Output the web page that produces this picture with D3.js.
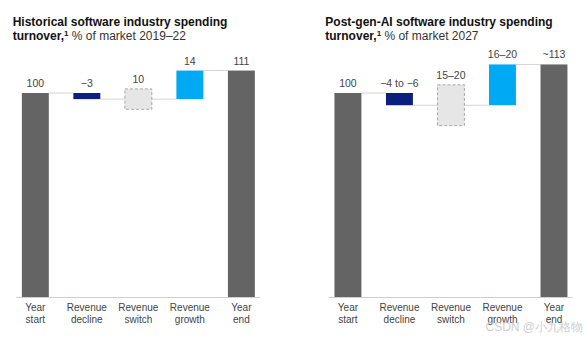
<!DOCTYPE html>
<html>
<head>
<meta charset="utf-8">
<script src="https://cdn.jsdelivr.net/npm/d3@7"></script>
<style>
  body { margin: 0; background: #fff; }
  svg { font-family: "Liberation Sans", Arial, sans-serif; }
</style>
</head>
<body>
<script>
var w = 586;
var h = 337;

// categories shared by both panels
var categories = [['Year', 'start'], ['Revenue', 'decline'], ['Revenue', 'switch'], ['Revenue', 'growth'], ['Year', 'end']];
var kinds = ['total', 'decline', 'switch', 'growth', 'total'];

// historical 2019-22
var histValues = [100, -3, 10, 14, 111];
var histLabels = ['100', '\u22123', '10', '14', '111'];

// post-gen-AI 2027 (drawn at the outer end of each range)
var aiValues = [100, -6, 20, 20, 114];
var aiLabels = ['100', '\u22124 to \u22126', '15\u201320', '16\u201320', '~113'];

var colors = { total: '#646464', decline: '#0b1f7c', growth: '#00a9f4', switch: '#e6e6e6' };

var svg = d3.select('body')
   .append('svg')
   .attr('width', w)
   .attr('height', h);

// turn the values into floating bar segments
function waterfall(values) {
   var level = 0;
   return values.map(function(v, i) {
      var k = kinds[i], lo, hi;
      if (k === 'total') { lo = 0; hi = v; level = v; }
      else if (k === 'switch') { lo = level - v / 2; hi = level + v / 2; }
      else { lo = Math.min(level, level + v); hi = Math.max(level, level + v); level += v; }
      return { i: i, kind: k, lo: lo, hi: hi, level: level };
   });
}

function panel(x0, titleLines, values, labels) {
   var g = svg.append('g');
   var x = d3.scaleBand()
      .domain(d3.range(categories.length))
      .range([x0, x0 + 243.3])
      .paddingInner(0.477)
      .paddingOuter(0.1);
   var y = d3.scaleLinear().domain([0, 100]).range([297, 93]);
   var segs = waterfall(values);

   // title
   var t = g.append('text').attr('x', x0 - 4).attr('y', 26).attr('font-size', '12px').attr('fill', '#111');
   t.append('tspan').attr('font-weight', 'bold').text(titleLines[0]);
   var t2 = g.append('text').attr('x', x0 - 4).attr('y', 40).attr('font-size', '12px').attr('fill', '#111');
   t2.append('tspan').attr('font-weight', 'bold').text('turnover,');
   t2.append('tspan').attr('font-size', '8px').attr('dy', -4).attr('font-weight', 'bold').text('1');
   t2.append('tspan').attr('dy', 4).attr('fill', '#333').text(' ' + titleLines[1]);

   // connectors
   g.selectAll('line.conn')
      .data(segs.slice(0, -1))
      .enter()
      .append('line')
      .attr('x1', function(d) { return x(d.i) + x.bandwidth(); })
      .attr('x2', function(d) { return x(d.i + 1); })
      .attr('y1', function(d) { return y(d.level); })
      .attr('y2', function(d) { return y(d.level); })
      .attr('stroke', '#d4d4d4')
      .attr('stroke-width', 1);

   // bars
   g.selectAll('rect')
      .data(segs)
      .enter()
      .append('rect')
      .attr('x', function(d) { return x(d.i); })
      .attr('y', function(d) { return y(d.hi); })
      .attr('width', x.bandwidth())
      .attr('height', function(d) { return y(d.lo) - y(d.hi); })
      .attr('fill', function(d) { return colors[d.kind]; })
      .attr('stroke', function(d) { return d.kind === 'switch' ? '#a8a8a8' : 'none'; })
      .attr('stroke-dasharray', '3,2');

   // value labels
   g.selectAll('text.val')
      .data(segs)
      .enter()
      .append('text')
      .attr('class', 'val')
      .attr('x', function(d) { return x(d.i) + x.bandwidth() / 2; })
      .attr('y', function(d) { return y(d.hi) - 6; })
      .attr('text-anchor', 'middle')
      .attr('font-size', '10.5px')
      .attr('fill', '#444')
      .text(function(d) { return labels[d.i]; });

   // baseline axis
   var axis = g.append('g').attr('transform', 'translate(0,297)')
      .call(d3.axisBottom(x).tickSize(0).tickFormat(''));
   axis.select('.domain').attr('stroke', '#cfcfcf').attr('d', 'M' + (x0 - 0.5) + ',0.5H' + (x0 + 243.3));

   axis.selectAll('.tick').each(function(d) {
      var tx = d3.select(this).select('text')
         .attr('y', 0).attr('dy', null)
         .attr('font-size', '10px')
         .attr('fill', '#444')
         .attr('font-family', '"Liberation Sans", Arial, sans-serif');
      tx.text(null);
      tx.append('tspan').attr('x', 0).attr('y', 14).text(categories[d][0]);
      tx.append('tspan').attr('x', 0).attr('y', 26).text(categories[d][1]);
   });
}

panel(16.7, ['Historical software industry spending', '% of market 2019\u201322'], histValues, histLabels);
panel(329.3, ['Post-gen-AI software industry spending', '% of market 2027'], aiValues, aiLabels);

// watermark
svg.append('text')
   .attr('x', 583)
   .attr('y', 331)
   .attr('text-anchor', 'end')
   .attr('font-size', '12px')
   .attr('fill', '#c4c4c4')
   .attr('opacity', 0.8)
   .text('CSDN @\u5c0f\u4e5d\u683c\u7269');
</script>
</body>
</html>
